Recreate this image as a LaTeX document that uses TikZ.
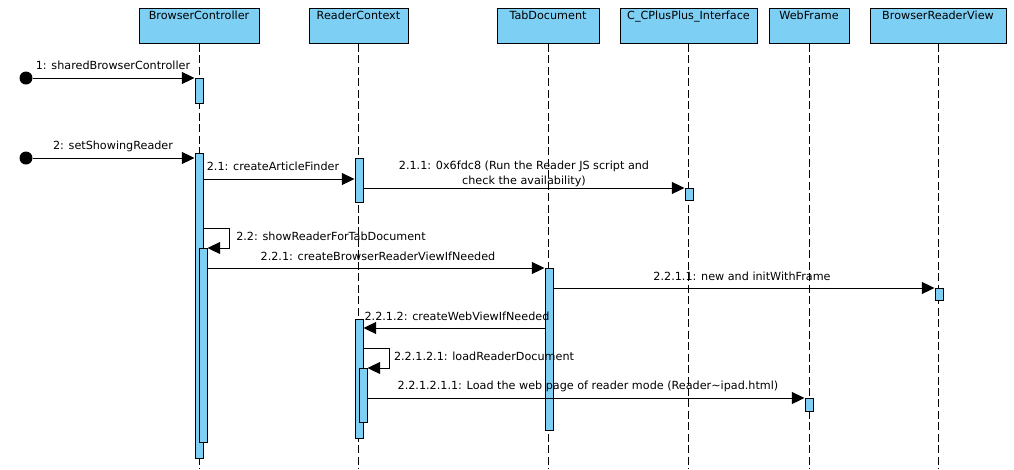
\documentclass[tikz,border=0pt]{standalone}
\usepackage{fontspec}
\setmainfont{DejaVu Sans}
\usetikzlibrary{arrows.meta,positioning,calc}
\definecolor{actblue}{RGB}{126,207,244}

\tikzset{
    head/.style={draw, fill=actblue, line width=0.75pt, minimum width=#1, minimum height=26.25pt,
        inner ysep=2pt, text height=6.6pt, text depth=15.65pt, anchor=north,
        font=\fontsize{8.4}{10}\selectfont},
    life/.style={line width=0.75pt, dash pattern=on 6pt off 2.6pt},
    act/.style={draw, fill=actblue, line width=0.75pt, minimum width=6pt, inner sep=0pt, anchor=north},
    msg/.style={line width=0.75pt, -{Triangle[length=9.5pt,width=9pt]}},
    lbl/.style={font=\fontsize{8.4}{11.25}\selectfont, inner sep=0pt, align=center},
    start/.style={circle, fill=black, minimum size=9.75pt, inner sep=0pt}
}

\begin{document}
\begin{tikzpicture}[x=0.75pt, y=-0.75pt]
    \useasboundingbox (0,0) rectangle (1014,469);

    \node[head=90pt] (bc) at (199,8) {BrowserController};
    \node[head=74.25pt] (rc) at (358.5,8) {ReaderContext};
    \node[head=76.5pt] (td) at (548,8) {TabDocument};
    \node[head=102.75pt] (cc) at (688.5,8) {C\_CPlusPlus\_Interface};
    \node[head=60pt] (wf) at (809,8) {WebFrame};
    \node[head=102pt] (bv) at (938,8) {BrowserReaderView};

    \foreach \n in {bc,rc,td,cc,wf,bv}
        \draw[life] (\n.south) -- (\n.south |- 0,469);

    \node[act, minimum height=18.75pt] (a1) at (199,78) {};
    \node[act, minimum height=228.75pt] (a2) at (199,153) {};
    \node[act, minimum height=145.5pt] (a3) at (203,248) {};
    \node[act, minimum height=33pt] (r1) at (359,158) {};
    \node[act, minimum height=9pt] (c1) at (689,188) {};
    \node[act, minimum height=121.5pt] (t1) at (549,268) {};
    \node[act, minimum height=9pt] (v1) at (939,288) {};
    \node[act, minimum height=89.25pt] (r2) at (359,319) {};
    \node[act, minimum height=40.5pt] (r3) at (363,368) {};
    \node[act, minimum height=9.75pt] (w1) at (809,398) {};

    \node[start] (s1) at (26,78) {};
    \node[start] (s2) at (26,158) {};

    \draw[msg] (s1) -- (a1.north west);
    \draw[msg] (s2) -- (a2.west |- s2);
    \draw[msg] (a2.east |- 0,179) -- (r1.west |- 0,179);
    \draw[msg] (r1.east |- c1.north) -- (c1.north west);
    \draw[msg] (a2.east |- 0,228) -- ++(26,0) |- (a3.north east);
    \draw[msg] (a3.east |- t1.north) -- (t1.north west);
    \draw[msg] (t1.east |- v1.north) -- (v1.north west);
    \draw[msg] (t1.west |- 0,328) -- (r2.east |- 0,328);
    \draw[msg] (r2.east |- 0,348) -- ++(26,0) |- (r3.north east);
    \draw[msg] (r3.east |- w1.north) -- (w1.north west);

    \node[lbl] (m1) at (113,65) {1: sharedBrowserController};
    \node[lbl] (m2) at (113,146) {2: setShowingReader};
    \node[lbl] (m21) at (273,166) {2.1: createArticleFinder};
    \node[lbl] (m211) at (524,173.5) {2.1.1: 0x6fdc8 (Run the Reader JS script and\\check the availability)};
    \node[lbl] (m22) at (331,236) {2.2: showReaderForTabDocument};
    \node[lbl] (m221) at (378,256) {2.2.1: createBrowserReaderViewIfNeeded};
    \node[lbl] (m2211) at (742,276) {2.2.1.1: new and initWithFrame};
    \node[lbl] (m2212) at (457,316) {2.2.1.2: createWebViewIfNeeded};
    \node[lbl] (m22121) at (484,356) {2.2.1.2.1: loadReaderDocument};
    \node[lbl] (m221211) at (588,386) {2.2.1.2.1.1: Load the web page of reader mode (Reader\textasciitilde ipad.html)};
\end{tikzpicture}
\end{document}
